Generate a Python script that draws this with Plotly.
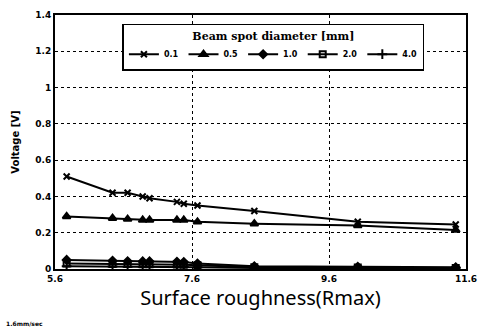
import plotly.graph_objects as go

x_vals = [5.77, 6.44, 6.66, 6.88, 6.98, 7.38, 7.48, 7.68, 8.51, 10.02, 11.45]
v_01 = [0.51, 0.42, 0.42, 0.40, 0.39, 0.37, 0.36, 0.35, 0.32, 0.26, 0.245]
v_05 = [0.29, 0.28, 0.275, 0.27, 0.27, 0.27, 0.27, 0.26, 0.25, 0.24, 0.215]
v_10 = [0.05, 0.045, 0.043, 0.042, 0.042, 0.04, 0.038, 0.03, 0.015, 0.012, 0.01]
v_20 = [0.03, 0.028, 0.027, 0.026, 0.026, 0.025, 0.024, 0.02, 0.01, 0.008, 0.006]
v_40 = [0.015, 0.014, 0.013, 0.012, 0.012, 0.012, 0.011, 0.01, 0.006, 0.005, 0.004]

names = ["0.1", "0.5", "1.0", "2.0", "4.0"]
series = [v_01, v_05, v_10, v_20, v_40]
symbols = ["x-thin-open", "triangle-up", "diamond", "square-open", "cross-thin-open"]
sizes = [6, 7, 6, 6, 7]

x_ticks = [5.6, 7.6, 9.6, 11.6]
x_ticktext = ["5.6", "7.6", "9.6", "11.6"]
y_ticks = [0, 0.2, 0.4, 0.6, 0.8, 1.0, 1.2, 1.4]

fig = go.Figure()
for n, v, s, sz in zip(names, series, symbols, sizes):
    fig.add_trace(go.Scatter(
        x=x_vals, y=v, name=n, mode="lines+markers",
        line=dict(color="black", width=2),
        marker=dict(symbol=s, size=sz, color="black",
                    line=dict(color="black", width=2)),
    ))

fig.update_layout(
    width=487, height=335,
    margin=dict(l=55, r=11, t=10, b=66),
    paper_bgcolor="white", plot_bgcolor="white",
    font=dict(family="DejaVu Sans", color="black"),
    showlegend=True,
    legend=dict(
        orientation="h",
        x=0.164, xanchor="left", y=0.965, yanchor="top",
        bgcolor="white", bordercolor="black", borderwidth=1.5,
        font=dict(size=8, weight="bold"),
        title=dict(text="Beam spot diameter [mm]", side="top center",
                   font=dict(size=11, weight="bold", family="DejaVu Serif")),
        itemwidth=30,
        tracegroupgap=0,
    ),
    xaxis=dict(
        range=[5.6, 11.6], tickvals=x_ticks, ticktext=x_ticktext,
        showgrid=True, gridcolor="black", griddash="dot", gridwidth=1,
        showline=True, linecolor="black", linewidth=2, mirror=True,
        zeroline=False, ticks="",
        tickfont=dict(size=9, weight="bold"),
        title=dict(text="Surface roughness(Rmax)",
                   font=dict(size=20, family="Noto Sans"), standoff=8),
    ),
    yaxis=dict(
        range=[0, 1.4], tickvals=y_ticks,
        showgrid=True, gridcolor="black", griddash="dot", gridwidth=1,
        showline=True, linecolor="black", linewidth=2, mirror=True,
        zeroline=False, ticks="",
        tickfont=dict(size=9, weight="bold"),
        title=dict(text="Voltage [V]", font=dict(size=10, weight="bold"),
                   standoff=14),
    ),
    annotations=[dict(
        text="1.6mm/sec", xref="paper", yref="paper",
        x=-0.125, y=-0.216, xanchor="left", yanchor="middle",
        showarrow=False, font=dict(size=6, weight="bold"),
    )],
)

fig.write_html("out.html")
